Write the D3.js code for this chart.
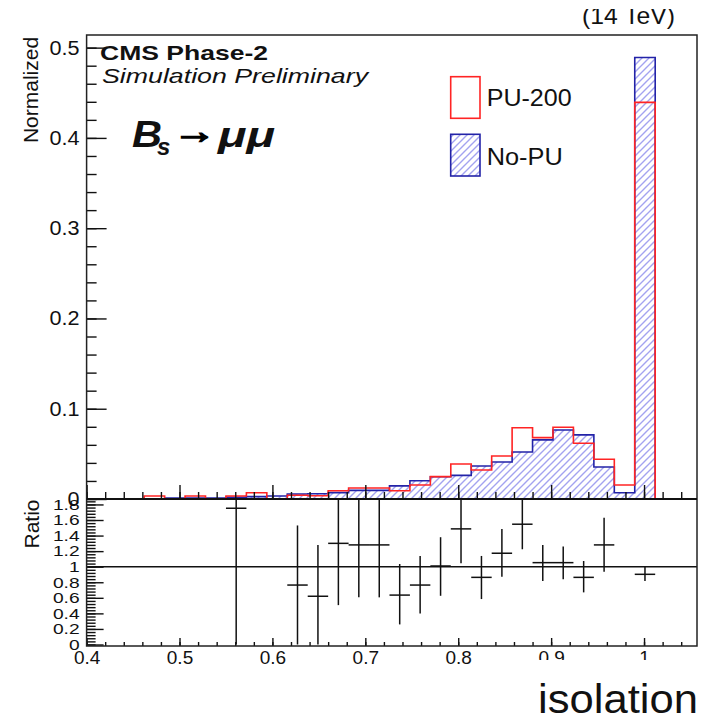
<!DOCTYPE html>
<html>
<head>
<meta charset="utf-8">
<script src="https://cdn.jsdelivr.net/npm/d3@7"></script>
<style>
  body { margin: 0; background: #fff; }
  text { font-family: "Liberation Sans", Arial, sans-serif; fill: #111; }
</style>
</head>
<body>
<svg id="chart"></svg>
<script>
// histogram bins (lower edges, width 0.022)
const binWidth = 0.022;
const binLow = [0.462, 0.484, 0.506, 0.528, 0.550, 0.572, 0.594, 0.616, 0.638, 0.660,
                0.682, 0.704, 0.726, 0.748, 0.770, 0.792, 0.814, 0.836, 0.858, 0.880,
                0.902, 0.924, 0.946, 0.968, 0.990];
const pu200 = [0.0033, 0, 0.0033, 0, 0.0033, 0.0070, 0, 0.0042, 0.0036, 0.0092,
               0.0122, 0.0122, 0.0092, 0.0155, 0.0248, 0.0388, 0.0322, 0.0477, 0.0790, 0.0680,
               0.0795, 0.0617, 0.0440, 0.0155, 0.4394];
const noPU  = [0, 0.0011, 0.0011, 0.0011, 0.0019, 0.0026, 0.0033, 0.0055, 0.0058, 0.0071,
               0.0095, 0.0095, 0.0145, 0.0203, 0.0246, 0.0262, 0.0366, 0.0410, 0.0520, 0.0655,
               0.0765, 0.0710, 0.0355, 0.0070, 0.4890];

// ratio PU-200 / No-PU (bin centres, value, error band)
const ratioX   = [0.561, 0.627, 0.649, 0.671, 0.693, 0.715, 0.737, 0.759, 0.781, 0.803,
                  0.825, 0.847, 0.869, 0.891, 0.913, 0.935, 0.957, 1.001];
const ratioVal = [1.75, 0.764, 0.62, 1.30, 1.28, 1.28, 0.635, 0.764, 1.009, 1.486,
                  0.863, 1.173, 1.546, 1.052, 1.052, 0.863, 1.28, 0.902];
const ratioLo  = [0, 0, 0, 0.506, 0.606, 0.606, 0.258, 0.40, 0.626, 1.044,
                  0.584, 0.871, 1.224, 0.816, 0.838, 0.67, 0.936, 0.816];
const ratioHi  = [3.5, 1.53, 1.28, 2.1, 1.95, 1.95, 1.035, 1.138, 1.379, 1.93,
                  1.138, 1.486, 1.95, 1.28, 1.258, 1.073, 1.63, 1.0];

const xTicks = [0.4, 0.5, 0.6, 0.7, 0.8, 0.9, 1.0];
const topTicks = [0, 0.1, 0.2, 0.3, 0.4, 0.5];
const ratioTicks = [0, 0.2, 0.4, 0.6, 0.8, 1, 1.2, 1.4, 1.6, 1.8];

const W = 709, H = 724;
const fr = { left: 86.6, right: 697, top: 35, mid: 499, bottom: 646 };

const svg = d3.select("#chart").attr("width", W).attr("height", H);
svg.append("rect").attr("width", W).attr("height", H).attr("fill", "#fff");

const x = d3.scaleLinear().domain([0.4, 1.057]).range([fr.left, fr.right]);
const y = d3.scaleLinear().domain([0, 0.514]).range([fr.mid, fr.top]);
const yr = d3.scaleLinear().domain([0, 1.87]).range([644.5, fr.mid]);

const defs = svg.append("defs");
defs.append("pattern")
    .attr("id", "hatch")
    .attr("patternUnits", "userSpaceOnUse")
    .attr("width", 7).attr("height", 7)
  .append("path")
    .attr("d", "M-1,1 l2,-2 M0,7 l7,-7 M6,8 l2,-2")
    .attr("stroke", "#a3a3f0")
    .attr("stroke-width", 1.4);
defs.append("clipPath").attr("id", "clipTop")
  .append("rect").attr("x", fr.left).attr("y", fr.top)
    .attr("width", fr.right - fr.left).attr("height", fr.mid - fr.top);
defs.append("clipPath").attr("id", "clipRatio")
  .append("rect").attr("x", fr.left).attr("y", fr.mid)
    .attr("width", fr.right - fr.left).attr("height", fr.bottom - fr.mid);

// make tick labels wider, like the stretched original
function stretch(sel, k) {
    sel.each(function() {
        const w = this.getComputedTextLength();
        d3.select(this).attr("textLength", w * k).attr("lengthAdjust", "spacingAndGlyphs");
    });
}

// step outline of a histogram
function steps(vals) {
    const pts = [[binLow[0], 0]];
    vals.forEach((v, i) => pts.push([binLow[i], v], [binLow[i] + binWidth, v]));
    pts.push([binLow[binLow.length - 1] + binWidth, 0]);
    return pts;
}
const line = d3.line().x(d => x(d[0])).y(d => y(d[1]));

const hist = svg.append("g").attr("clip-path", "url(#clipTop)");
hist.append("path")
    .attr("d", line(steps(noPU)) + "Z")
    .attr("fill", "url(#hatch)")
    .attr("stroke", "#2323a8")
    .attr("stroke-width", 1.6);
hist.append("path")
    .attr("d", line(steps(pu200)))
    .attr("fill", "none")
    .attr("stroke", "#ff2424")
    .attr("stroke-width", 1.6);

// ---- axes of the top panel
function styleAxis(g) {
    g.select(".domain").remove();
    g.selectAll("line").attr("stroke", "#111").attr("stroke-width", 1.4);
}

svg.append("g").attr("transform", `translate(0,${fr.mid})`)
    .call(d3.axisBottom(x).tickValues(d3.range(40, 106, 2).map(k => k / 100))
        .tickSizeInner(-7).tickSizeOuter(0).tickFormat(""))
    .call(styleAxis);
svg.append("g").attr("transform", `translate(0,${fr.mid})`)
    .call(d3.axisBottom(x).tickValues(xTicks).tickSizeInner(-14).tickSizeOuter(0).tickFormat(""))
    .call(styleAxis);

svg.append("g").attr("transform", `translate(${fr.left},0)`)
    .call(d3.axisLeft(y).tickValues(d3.range(0, 26).map(k => k / 50))
        .tickSizeInner(-10).tickSizeOuter(0).tickFormat(""))
    .call(styleAxis);
const yAx = svg.append("g").attr("transform", `translate(${fr.left},0)`)
    .call(d3.axisLeft(y).tickValues(topTicks).tickSizeInner(-20).tickSizeOuter(0).tickPadding(7)
        .tickFormat(d => d === 0 ? "0" : d3.format(".1f")(d)))
    .call(styleAxis);
yAx.selectAll("text").attr("font-size", 20).attr("font-family", "Liberation Sans").attr("fill", "#111");
stretch(yAx.selectAll("text"), 1.08);

// ---- ratio panel
svg.append("line")
    .attr("x1", fr.left).attr("x2", fr.right)
    .attr("y1", yr(1)).attr("y2", yr(1))
    .attr("stroke", "#111").attr("stroke-width", 1.5);

const ratio = svg.append("g").attr("clip-path", "url(#clipRatio)");
ratio.selectAll(".err").data(ratioX).join("line")
    .attr("x1", d => x(d)).attr("x2", d => x(d))
    .attr("y1", (d, i) => yr(ratioLo[i])).attr("y2", (d, i) => yr(ratioHi[i]))
    .attr("stroke", "#111").attr("stroke-width", 1.5);
ratio.selectAll(".bar").data(ratioX).join("line")
    .attr("x1", d => x(d - binWidth / 2)).attr("x2", d => x(d + binWidth / 2))
    .attr("y1", (d, i) => yr(ratioVal[i])).attr("y2", (d, i) => yr(ratioVal[i]))
    .attr("stroke", "#111").attr("stroke-width", 1.5);

svg.append("g").attr("transform", `translate(0,${fr.bottom})`)
    .call(d3.axisBottom(x).tickValues(d3.range(40, 106, 2).map(k => k / 100))
        .tickSizeInner(-4).tickSizeOuter(0).tickFormat(""))
    .call(styleAxis);
const xAx = svg.append("g").attr("transform", `translate(0,${fr.bottom})`)
    .call(d3.axisBottom(x).tickValues(xTicks).tickSizeInner(-8).tickSizeOuter(0).tickPadding(5)
        .tickFormat(d => d === 1 ? "1" : d3.format(".1f")(d)))
    .call(styleAxis);
xAx.selectAll("text").attr("font-size", 19).attr("font-family", "Liberation Sans").attr("fill", "#111");

svg.append("g").attr("transform", `translate(${fr.left},0)`)
    .call(d3.axisLeft(yr).tickValues(d3.range(0, 47).map(k => k * 0.04))
        .tickSizeInner(-9).tickSizeOuter(0).tickFormat(""))
    .call(styleAxis);
const rAx = svg.append("g").attr("transform", `translate(${fr.left},0)`)
    .call(d3.axisLeft(yr).tickValues(ratioTicks).tickSizeInner(-17).tickSizeOuter(0).tickPadding(7)
        .tickFormat(d => String(+d.toFixed(1))))
    .call(styleAxis);
rAx.selectAll("text").attr("font-size", 15).attr("font-family", "Liberation Sans").attr("fill", "#111");
stretch(rAx.selectAll("text"), 1.28);

// frames
svg.append("rect")
    .attr("x", fr.left).attr("y", fr.top)
    .attr("width", fr.right - fr.left).attr("height", fr.bottom - fr.top)
    .attr("fill", "none").attr("stroke", "#222").attr("stroke-width", 1.5);
svg.append("line")
    .attr("x1", fr.left).attr("x2", fr.right).attr("y1", fr.mid).attr("y2", fr.mid)
    .attr("stroke", "#111").attr("stroke-width", 2);

// axis titles
svg.append("text")
    .attr("transform", "translate(37.5,90) rotate(-90)")
    .attr("text-anchor", "middle")
    .attr("font-size", 21)
    .attr("fill", "#222")
    .text("Normalized");
svg.append("text")
    .attr("transform", "translate(39,524) rotate(-90)")
    .attr("text-anchor", "middle")
    .attr("font-size", 21)
    .attr("fill", "#222")
    .text("Ratio");

// CMS labels
svg.append("text").attr("x", 100).attr("y", 60)
    .attr("font-size", 21).attr("font-weight", "bold")
    .attr("textLength", 168).attr("lengthAdjust", "spacingAndGlyphs")
    .text("CMS Phase-2");
svg.append("text").attr("x", 102).attr("y", 83)
    .attr("font-size", 21).attr("font-style", "italic")
    .attr("textLength", 266).attr("lengthAdjust", "spacingAndGlyphs")
    .text("Simulation Preliminary");

// process label
const proc = svg.append("g").attr("font-weight", "bold").attr("font-style", "italic");
proc.append("text").attr("x", 132).attr("y", 147).attr("font-size", 36).attr("fill", "#000")
    .attr("textLength", 30).attr("lengthAdjust", "spacingAndGlyphs").text("B");
proc.append("text").attr("x", 157).attr("y", 155).attr("font-size", 24).attr("fill", "#000").text("s");
proc.append("text").attr("x", 173).attr("y", 143).attr("font-size", 34).attr("font-style", "normal")
    .attr("font-family", "DejaVu Sans").attr("fill", "#000")
    .attr("stroke", "#000").attr("stroke-width", 1.6)
    .attr("textLength", 43).attr("lengthAdjust", "spacingAndGlyphs").text("\u2192");
proc.append("text").attr("x", 218).attr("y", 147).attr("font-size", 36).attr("fill", "#000")
    .attr("textLength", 57).attr("lengthAdjust", "spacingAndGlyphs").text("\u03bc\u03bc");

// legend
svg.append("rect").attr("x", 450.7).attr("y", 76.7).attr("width", 29.3).attr("height", 41.6)
    .attr("fill", "none").attr("stroke", "#ff2424").attr("stroke-width", 1.6);
svg.append("text").attr("x", 486.7).attr("y", 106).attr("font-size", 24)
    .attr("textLength", 85).attr("lengthAdjust", "spacingAndGlyphs").text("PU-200");
svg.append("rect").attr("x", 450.7).attr("y", 134.3).attr("width", 29.3).attr("height", 41.7)
    .attr("fill", "url(#hatch)").attr("stroke", "#2323a8").attr("stroke-width", 1.6);
svg.append("text").attr("x", 486.7).attr("y", 165).attr("font-size", 24)
    .attr("textLength", 76).attr("lengthAdjust", "spacingAndGlyphs").text("No-PU");

// energy label, cut at the top edge
svg.append("text").attr("x", 582).attr("y", 23.5).attr("font-size", 24).attr("fill", "#222")
    .attr("textLength", 93).attr("lengthAdjust", "spacingAndGlyphs").text("(14 TeV)");
svg.append("rect").attr("x", 560).attr("y", 0).attr("width", 149).attr("height", 9).attr("fill", "#fff");

// x title on its own white box
svg.append("rect").attr("x", 530).attr("y", 660).attr("width", 179).attr("height", 64).attr("fill", "#fff");
svg.append("text").attr("x", 538).attr("y", 713)
    .attr("font-family", "Lato, 'Open Sans'").attr("font-size", 40).attr("fill", "#000")
    .attr("textLength", 160).attr("lengthAdjust", "spacingAndGlyphs")
    .text("isolation");
</script>
</body>
</html>
